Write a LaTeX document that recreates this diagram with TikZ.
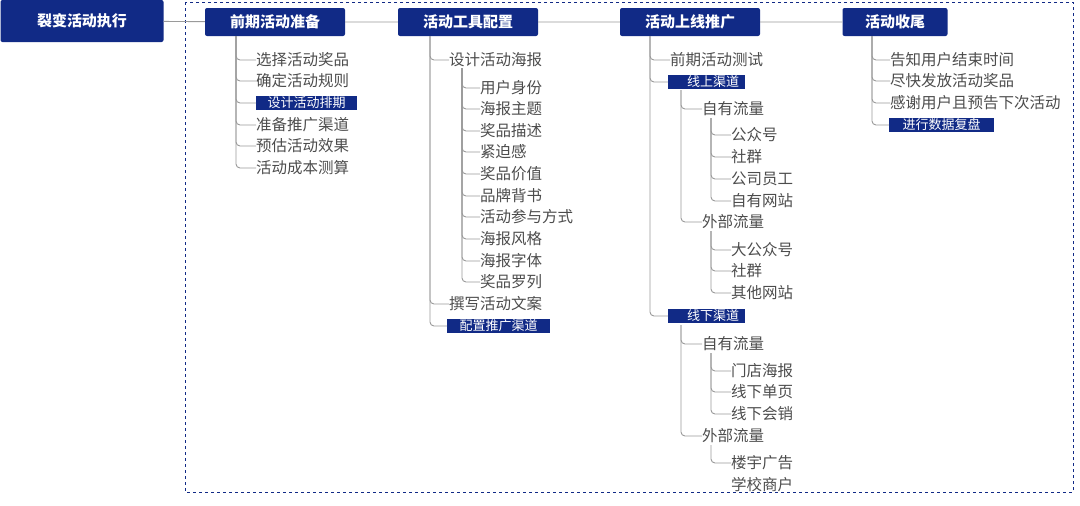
\documentclass[tikz,border=0pt]{standalone}
\usepackage{fontspec}
\setmainfont{Noto Sans CJK SC}
\usetikzlibrary{positioning}
\definecolor{navy}{HTML}{112A86}
\definecolor{twig}{HTML}{9A9A9A}
\tikzset{
  head/.style={fill=navy,text=white,font=\bfseries\fontsize{15}{15}\selectfont,rounded corners=2pt,inner sep=0pt},
  leaf/.style={anchor=west,text=black!70,font=\fontsize{15.5}{16}\selectfont,inner sep=0pt},
  tag/.style={anchor=west,fill=navy,text=white,font=\fontsize{13}{13}\selectfont,inner xsep=0pt,inner ysep=1pt},
  twig/.style={draw=twig,line width=0.9pt,rounded corners=4pt}
}
\begin{document}
\begin{tikzpicture}[x=1pt,y=-1pt]
        \useasboundingbox (0,0) rectangle (1080,506);
        \draw[navy,dashed,line width=1pt] (185,2) rectangle (1073,492);
        \node[head,minimum width=163,minimum height=42] (root) at (82,21) {裂变活动执行};
        \node[head,minimum width=140,minimum height=28] (prep) at (275,22) {前期活动准备};
        \node[head,minimum width=140,minimum height=28] (tool) at (468,22) {活动工具配置};
        \node[head,minimum width=140,minimum height=28] (push) at (690,22) {活动上线推广};
        \node[head,minimum width=105,minimum height=28] (close) at (895,22) {活动收尾};
        \draw[twig] (root) -- (prep) (prep) -- (tool) (tool) -- (push) (push) -- (close);
        % first column
        \foreach \t/\y [count=\i] in {选择活动奖品/60,确定活动规则/81,准备推广渠道/125,预估活动效果/146,活动成本测算/168}
            {\node[leaf] (p\i) at (256,\y) {\t};
             \draw[twig] (236,36) |- (p\i.west);}
        \node[tag,minimum width=101] (p0) at (256,103) {设计活动排期};
        \draw[twig] (236,36) |- (p0.west);
        % second column
        \node[leaf] (poster) at (449,60) {设计活动海报};
        \node[leaf] (copy) at (449,304) {撰写活动文案};
        \node[tag,minimum width=103] (chan) at (447,326) {配置推广渠道};
        \foreach \n in {poster,copy,chan} \draw[twig] (430,36) |- (\n.west);
        \foreach \t/\y [count=\i] in {用户身份/88,海报主题/109,奖品描述/131,紧迫感/152,奖品价值/174,品牌背书/196,活动参与方式/217,海报风格/239,海报字体/261,奖品罗列/282}
            {\node[leaf] (t\i) at (480,\y) {\t};
             \draw[twig] (462,68) |- (t\i.west);}
        % third column
        \node[leaf] (test) at (670,60) {前期活动测试};
        \node[tag,minimum width=77] (online) at (668,82) {\quad 线上渠道};
        \node[tag,minimum width=77] (offline) at (668,316) {\quad 线下渠道};
        \foreach \n in {test,online,offline} \draw[twig] (650,36) |- (\n.west);
        \node[leaf] (on1) at (702,109) {自有流量};
        \node[leaf] (on2) at (702,222) {外部流量};
        \node[leaf] (off1) at (702,344) {自有流量};
        \node[leaf] (off2) at (702,436) {外部流量};
        \foreach \n in {on1,on2} \draw[twig] (681,90) |- (\n.west);
        \foreach \n in {off1,off2} \draw[twig] (681,325) |- (\n.west);
        \foreach \t/\y [count=\i] in {公众号/135,社群/157,公司员工/179,自有网站/201}
            {\node[leaf] (a\i) at (731,\y) {\t};
             \draw[twig] (711,118) |- (a\i.west);}
        \foreach \t/\y [count=\i] in {大公众号/250,社群/271,其他网站/293}
            {\node[leaf] (b\i) at (731,\y) {\t};
             \draw[twig] (711,231) |- (b\i.west);}
        \foreach \t/\y [count=\i] in {门店海报/371,线下单页/392,线下会销/414}
            {\node[leaf] (c\i) at (731,\y) {\t};
             \draw[twig] (711,353) |- (c\i.west);}
        \node[leaf] (d1) at (731,463) {楼宇广告};
        \node[leaf] (d2) at (731,485) {学校商户};
        \draw[twig] (711,445) |- (d1.west);
        % fourth column
        \foreach \t/\y [count=\i] in {告知用户结束时间/60,尽快发放活动奖品/81,感谢用户且预告下次活动/103}
            {\node[leaf] (e\i) at (890,\y) {\t};
             \draw[twig] (872,36) |- (e\i.west);}
        \node[tag,minimum width=105] (review) at (889,125) {进行数据复盘};
        \draw[twig] (872,36) |- (review.west);
\end{tikzpicture}
\end{document}
